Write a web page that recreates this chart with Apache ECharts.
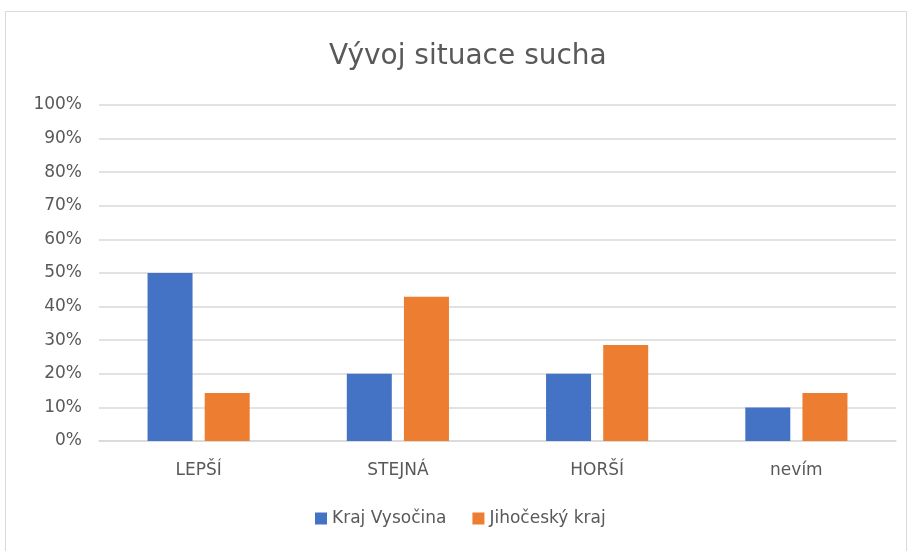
<!DOCTYPE html>
<html>
<head>
<meta charset="utf-8">
<script src="https://cdn.jsdelivr.net/npm/echarts@6/dist/echarts.min.js"></script>
<style>
  html, body { margin: 0; padding: 0; background: #fff; }
  #chart { width: 910px; height: 551px; }
</style>
</head>
<body>
<div id="chart"></div>
<script>
const categories = ['LEPŠÍ', 'STEJNÁ', 'HORŠÍ', 'nevím'];
const vysocina = [50, 20, 20, 10];
const jihocesky = [14.3, 42.9, 28.6, 14.3];
const seriesNames = ['Kraj Vysočina', 'Jihočeský kraj'];

const font = 'DejaVu Sans, Liberation Sans, sans-serif';
const chart = echarts.init(document.getElementById('chart'));

const option = {
  backgroundColor: '#ffffff',
  color: ['#4472C4', '#ED7D31'],
  animation: false,
  graphic: [{
    type: 'rect',
    shape: { x: 5.5, y: 11.5, width: 901, height: 560 },
    style: { fill: 'none', stroke: '#d9d9d9', lineWidth: 1 }
  }],
  title: {
    text: 'Vývoj situace sucha',
    left: 324,
    top: 38,
    textStyle: { fontFamily: font, fontSize: 28, fontWeight: 'normal', color: '#595959' }
  },
  legend: {
    bottom: 19,
    left: 310,
    itemWidth: 12,
    itemHeight: 12,
    itemGap: 26,
    icon: 'rect',
    textStyle: { fontFamily: font, fontSize: 17, color: '#595959' },
    data: seriesNames
  },
  grid: { left: 99, right: 14, top: 105, bottom: 110, containLabel: false },
  xAxis: {
    type: 'category',
    data: categories,
    axisTick: { show: false },
    axisLine: { lineStyle: { color: '#d9d9d9', width: 1.5 } },
    axisLabel: { fontFamily: font, fontSize: 17, color: '#595959', margin: 21 }
  },
  yAxis: {
    type: 'value',
    min: 0,
    max: 100,
    interval: 10,
    axisLine: { show: false },
    axisTick: { show: false },
    splitLine: { lineStyle: { color: '#d9d9d9', width: 1.5 } },
    axisLabel: { fontFamily: font, fontSize: 17, color: '#595959', margin: 17, formatter: '{value}%' }
  },
  series: [
    { name: seriesNames[0], type: 'bar', data: vysocina, barWidth: 45, barGap: '27%' },
    { name: seriesNames[1], type: 'bar', data: jihocesky, barWidth: 45, barGap: '27%' }
  ]
};
chart.setOption(option);
</script>
</body>
</html>
